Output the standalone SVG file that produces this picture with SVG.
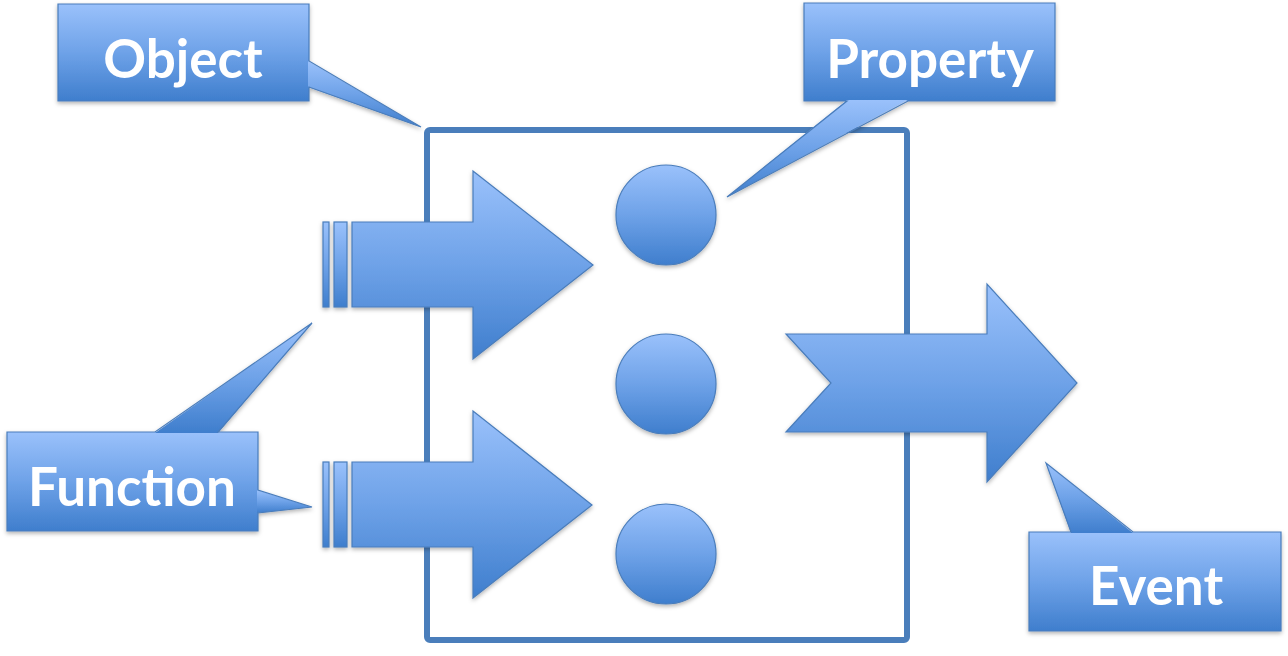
<svg xmlns="http://www.w3.org/2000/svg" width="1288" height="656" viewBox="0 0 1288 656">
<defs>
<linearGradient id="g" x1="0" y1="0" x2="0" y2="1">
<stop offset="0" stop-color="#9ac1fb"/>
<stop offset="0.5" stop-color="#6ea2e8"/>
<stop offset="1" stop-color="#3f7ecd"/>
</linearGradient>
<filter id="sh" x="-10%" y="-10%" width="120%" height="130%">
<feDropShadow dx="0" dy="2" stdDeviation="2" flood-color="#000" flood-opacity="0.3"/>
</filter>
<style>
.f{fill:url(#g);stroke:none}
.o{fill:none;stroke:#4a7dbb;stroke-width:1.2;stroke-linejoin:miter}
.s{fill:url(#g);stroke:#4a7dbb;stroke-width:1.2}
.t{font-family:Lato,"Open Sans","DejaVu Sans",sans-serif;font-weight:bold;font-size:53px;fill:#fff;text-anchor:middle}
.box{fill:none;stroke:#4a7ebb;stroke-width:6}
</style>
</defs>
<rect width="1288" height="656" fill="#fff"/>

<g id="object-box">
<rect class="box" x="427" y="130" width="480" height="510" rx="3"/>
</g>

<g id="connectors">
<g id="arrow-in-1" filter="url(#sh)">
<rect class="s" x="323" y="222" width="6" height="85"/>
<rect class="s" x="334" y="222" width="13" height="85"/>
<path class="s" d="M352,222 H473 V171 L593,265 L473,359 V307 H352 Z"/>
</g>
<g id="arrow-in-2" filter="url(#sh)">
<rect class="s" x="323" y="462" width="6" height="85"/>
<rect class="s" x="334" y="462" width="13" height="85"/>
<path class="s" d="M352,462 H473 V411 L592,505 L473,598 V547 H352 Z"/>
</g>
<g id="arrow-out" filter="url(#sh)">
<path class="s" d="M786,334 H987 V284 L1077,383 L987,482 V432 H786 L831,383 Z"/>
</g>
</g>

<g id="prop-1" filter="url(#sh)"><circle class="s" cx="666" cy="215" r="50"/></g>
<g id="prop-2" filter="url(#sh)"><circle class="s" cx="666" cy="384" r="50"/></g>
<g id="prop-3" filter="url(#sh)"><circle class="s" cx="666" cy="554" r="50"/></g>

<g id="callout-object" filter="url(#sh)">
<rect class="f" x="58" y="4" width="251" height="97"/>
<polygon class="f" points="308,61 421,127 308,87"/>
<path class="o" d="M58,4 H309 V61 L421,127 L309,87 V101 H58 Z"/>
<text class="t" x="183" y="78">Object</text>
</g>

<g id="callout-property" filter="url(#sh)">
<rect class="f" x="804" y="3" width="251" height="98"/>
<polygon class="f" points="847,100 908,100 727,197"/>
<path class="o" d="M804,3 H1055 V101 H908 L727,197 L847,101 H804 Z"/>
<text class="t" x="930" y="78">Property</text>
</g>

<g id="callout-function" filter="url(#sh)">
<rect class="f" x="7" y="432" width="251" height="99"/>
<polygon class="f" points="155,433 218,433 312,323"/>
<polygon class="f" points="257,490 312,507 257,513"/>
<path class="o" d="M7,432 H155 L312,323 L218,432 H258 V490 L312,507 L258,513 V531 H7 Z"/>
<text class="t" x="132" y="506">Function</text>
</g>

<g id="callout-event" filter="url(#sh)">
<rect class="f" x="1029" y="532" width="252" height="99"/>
<polygon class="f" points="1071,533 1046,463 1133,533"/>
<path class="o" d="M1029,532 H1071 L1046,463 L1133,532 H1281 V631 H1029 Z"/>
<text class="t" x="1156" y="605">Event</text>
</g>
</svg>
